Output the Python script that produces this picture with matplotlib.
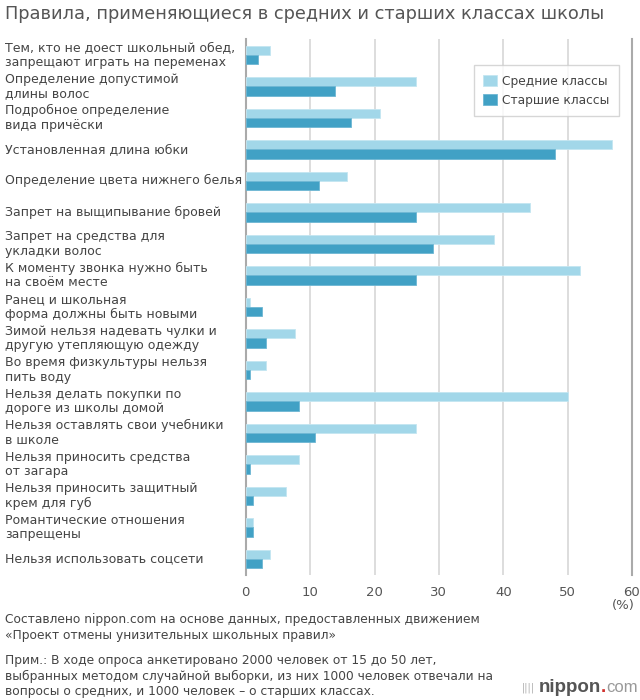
import matplotlib.pyplot as plt
import matplotlib.transforms as mtransforms
import numpy as np

plt.rcParams['font.family'] = ['DejaVu Sans']

# data (%)
labels = [
    "Тем, кто не доест школьный обед,\nзапрещают играть на переменах",
    "Определение допустимой\nдлины волос",
    "Подробное определение\nвида причёски",
    "Установленная длина юбки",
    "Определение цвета нижнего белья",
    "Запрет на выщипывание бровей",
    "Запрет на средства для\nукладки волос",
    "К моменту звонка нужно быть\nна своём месте",
    "Ранец и школьная\nформа должны быть новыми",
    "Зимой нельзя надевать чулки и\nдругую утепляющую одежду",
    "Во время физкультуры нельзя\nпить воду",
    "Нельзя делать покупки по\nдороге из школы домой",
    "Нельзя оставлять свои учебники\nв школе",
    "Нельзя приносить средства\nот загара",
    "Нельзя приносить защитный\nкрем для губ",
    "Романтические отношения\nзапрещены",
    "Нельзя использовать соцсети",
]
middle = [3.7, 26.5, 20.9, 56.9, 15.8, 44.2, 38.6, 51.9, 0.6, 7.6, 3.2, 50.0, 26.5, 8.2, 6.3, 1.2, 3.8]
senior = [1.9, 13.9, 16.4, 48.0, 11.4, 26.5, 29.1, 26.5, 2.5, 3.2, 0.6, 8.2, 10.8, 0.6, 1.2, 1.2, 2.5]
series_names = ["Средние классы", "Старшие классы"]
xticks = [0, 10, 20, 30, 40, 50, 60]

light = '#a2d7e9'
dark = '#41a1c5'
text_c = '#444444'

fig = plt.figure(figsize=(6.4, 7), dpi=100)
ax = fig.add_axes([0.384, 0.179, 0.6035, 0.765])

y = np.arange(len(labels))
h = 0.29
ax.barh(y - h / 2, middle, height=h, color=light, edgecolor='#c4e6f1', linewidth=0.6, label=series_names[0], zorder=3)
ax.barh(y + h / 2, senior, height=h, color=dark, edgecolor='#6db7d3', linewidth=0.6, label=series_names[1], zorder=3)

ax.set_ylim(len(labels) - 0.5, -0.5)
ax.set_xlim(0, 60)
ax.set_yticks([])
ax.set_xticks(xticks)
ax.set_xticklabels([str(t) for t in xticks], color='#555555', fontsize=9.5)
ax.tick_params(axis='x', length=0, pad=8)

for t in xticks[1:-1]:
    ax.axvline(t, color='#dddddd', linewidth=1.4, zorder=1)
for s in ['top', 'bottom']:
    ax.spines[s].set_visible(False)
for s in ['left', 'right']:
    ax.spines[s].set_color('#aaaaaa')
    ax.spines[s].set_linewidth(1.5)

# category labels on the left (x in figure coords, y in data coords)
trans = mtransforms.blended_transform_factory(fig.transFigure, ax.transData)
for i, lab in enumerate(labels):
    ax.text(5 / 640, y[i], lab, transform=trans, fontsize=9,
            color=text_c, ha='left', va='center', linespacing=1.12)

leg = ax.legend(loc='upper right', bbox_to_anchor=(0.966, 0.951), borderaxespad=0,
                frameon=True, fancybox=False, fontsize=8.8, handlelength=1.1,
                handleheight=1.1, borderpad=0.75, labelspacing=0.5, handletextpad=0.45)
leg.get_frame().set_edgecolor('#cccccc')
leg.get_frame().set_linewidth(1)
for txt in leg.get_texts():
    txt.set_color(text_c)

fig.text(0.008, 0.98, "Правила, применяющиеся в средних и старших классах школы",
         fontsize=12.8, color='#555555', ha='left', va='center')

fig.text(0.992, 1 - 606 / 700, "(%)", fontsize=9.5, color='#555555', ha='right', va='center')

fig.text(5 / 640, 1 - 627.5 / 700,
         "Составлено nippon.com на основе данных, предоставленных движением\n«Проект отмены унизительных школьных правил»",
         fontsize=8.8, color=text_c, ha='left', va='center', linespacing=1.22)
fig.text(5 / 640, 1 - 676 / 700,
         "Прим.: В ходе опроса анкетировано 2000 человек от 15 до 50 лет,\n"
         "выбранных методом случайной выборки, из них 1000 человек отвечали на\n"
         "вопросы о средних, и 1000 человек – о старших классах.",
         fontsize=8.8, color=text_c, ha='left', va='center', linespacing=1.22)

# logo
ly = 1 - 688 / 700
fig.text(601 / 640, ly, "nippon", fontsize=13.5, color='#555555', fontweight='bold',
         family='Liberation Sans', ha='right', va='center')
fig.text(601 / 640, ly, ".", fontsize=13.5, color='#d0312d', fontweight='bold',
         family='Liberation Sans', ha='left', va='center')
fig.text(606 / 640, ly, "com", fontsize=12, color='#999999',
         family='Liberation Sans', ha='left', va='center')
fig.text(535 / 640, ly, "||||", fontsize=7, color='#aaaaaa', ha='right', va='center')

fig.savefig('out.png', dpi=100, facecolor='white')
